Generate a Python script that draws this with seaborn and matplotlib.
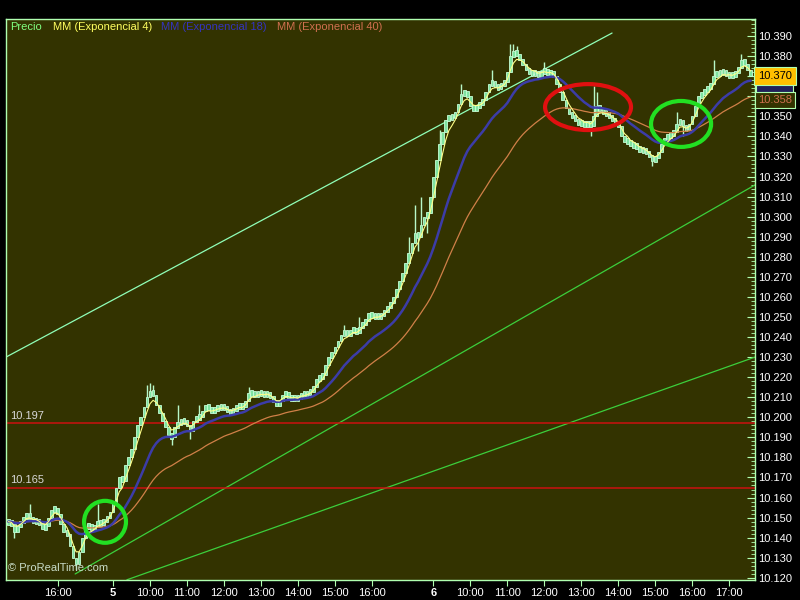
import numpy as np
import pandas as pd
import seaborn as sns
import matplotlib.pyplot as plt
from matplotlib.patches import Ellipse, Rectangle
from matplotlib.ticker import MultipleLocator, FuncFormatter

# 5-minute closes, one list per session
session_starts = ['2009-03-04 14:40', '2009-03-05 09:00', '2009-03-06 09:00']

prev_close = [10.148, 10.147, 10.143, 10.146, 10.148, 10.150, 10.152, 10.150, 10.148,
              10.149, 10.147, 10.145, 10.146, 10.150, 10.154, 10.155, 10.152, 10.147,
              10.143, 10.142, 10.136, 10.130, 10.127, 10.133, 10.140, 10.145, 10.147,
              10.144, 10.146, 10.148, 10.147, 10.149, 10.150, 10.153]

day5_close = [10.158, 10.165, 10.170, 10.168, 10.176, 10.180, 10.184, 10.190, 10.196, 10.200,
              10.205, 10.210, 10.213, 10.211, 10.206, 10.202, 10.198, 10.195, 10.191, 10.190,
              10.195, 10.197, 10.198, 10.198, 10.196, 10.193, 10.198, 10.200, 10.200, 10.203,
              10.206, 10.204, 10.203, 10.204, 10.205, 10.205, 10.205, 10.203, 10.202, 10.204,
              10.205, 10.206, 10.205, 10.208, 10.212, 10.212, 10.211, 10.212, 10.212, 10.211,
              10.212, 10.210, 10.208, 10.206, 10.208, 10.211, 10.212, 10.210, 10.209, 10.210,
              10.209, 10.212, 10.211, 10.212, 10.213, 10.215, 10.219, 10.220, 10.221, 10.226,
              10.230, 10.232, 10.235, 10.238, 10.241, 10.243, 10.241, 10.243, 10.244, 10.242,
              10.245, 10.247, 10.248, 10.252, 10.250, 10.251, 10.250, 10.251, 10.253, 10.255,
              10.257, 10.260, 10.264, 10.268, 10.272, 10.277, 10.282, 10.287, 10.292, 10.290,
              10.296, 10.300, 10.302, 10.310]

day6_close = [10.320, 10.328, 10.336, 10.342, 10.348, 10.350, 10.349, 10.352, 10.356, 10.361,
              10.362, 10.360, 10.355, 10.353, 10.355, 10.356, 10.358, 10.362, 10.366, 10.367,
              10.365, 10.364, 10.366, 10.367, 10.372, 10.380, 10.382, 10.381, 10.378, 10.376,
              10.373, 10.372, 10.371, 10.372, 10.370, 10.372, 10.373, 10.371, 10.372, 10.370,
              10.366, 10.362, 10.358, 10.354, 10.351, 10.350, 10.348, 10.346, 10.347, 10.345,
              10.347, 10.345, 10.350, 10.355, 10.353, 10.352, 10.351, 10.350, 10.348, 10.347,
              10.345, 10.340, 10.337, 10.338, 10.335, 10.336, 10.334, 10.333, 10.333, 10.332,
              10.330, 10.328, 10.329, 10.332, 10.336, 10.339, 10.340, 10.341, 10.342, 10.346,
              10.348, 10.345, 10.343, 10.346, 10.350, 10.355, 10.360, 10.361, 10.363, 10.364,
              10.366, 10.370, 10.372, 10.371, 10.373, 10.370, 10.371, 10.370, 10.372, 10.374,
              10.378, 10.376, 10.373, 10.370]

# wick extremes (bar index, price)
wick_top_idx = [7, 29, 45, 46, 47, 55, 62, 78, 109, 114, 130, 132, 134, 140, 147, 157,
                163, 164, 165, 174, 190, 191, 217, 229, 238]
wick_top = [10.157, 10.157, 10.216, 10.217, 10.216, 10.206, 10.206, 10.215, 10.246, 10.250,
            10.290, 10.306, 10.310, 10.343, 10.366, 10.373, 10.386, 10.386, 10.385, 10.377,
            10.365, 10.362, 10.352, 10.378, 10.381]
wick_bot_idx = [2, 22, 53, 59, 133, 136, 189, 209, 219]
wick_bot = [10.140, 10.124, 10.186, 10.189, 10.283, 10.292, 10.340, 10.325, 10.340]

hlines = [10.197, 10.165]

# trend lines: (bar index start, end), (price start, end)
trend_x = [[-0.75, 196.0], [21.7, 242.4], [38.5, 242.4]]
trend_y = [[10.230, 10.3915], [10.1219, 10.3158], [10.119, 10.230]]
trend_colors = ['#90ffb8', '#3ccf3c', '#3ccf3c']

# highlighted zones: centre index, centre price, width (bars), height (price)
circle_x = [31.4, 188.2, 218.4]
circle_y = [10.1479, 10.3546, 10.3462]
circle_w = [13.6, 27.9, 19.5]
circle_h = [0.0209, 0.0229, 0.0229]
circle_colors = ['#22e022', '#e01010', '#22e022']

# last value tags: close, EMA 18 (hidden behind close), EMA 40
tag_close = 10.370
tag_ema18 = 10.3655
tag_ema40 = 10.358
# axis labels covered by the tags
hidden_labels = ['10.360', '10.370']

tick_stamps = ['2009-03-04 16:00', '2009-03-05 09:00', '2009-03-05 10:00', '2009-03-05 11:00',
               '2009-03-05 12:00', '2009-03-05 13:00', '2009-03-05 14:00', '2009-03-05 15:00',
               '2009-03-05 16:00', '2009-03-06 09:00', '2009-03-06 10:00', '2009-03-06 11:00',
               '2009-03-06 12:00', '2009-03-06 13:00', '2009-03-06 14:00', '2009-03-06 15:00',
               '2009-03-06 16:00', '2009-03-06 17:00']
tick_labels = ['16:00', '5', '10:00', '11:00', '12:00', '13:00', '14:00', '15:00', '16:00',
               '6', '10:00', '11:00', '12:00', '13:00', '14:00', '15:00', '16:00', '17:00']

sessions = [prev_close, day5_close, day6_close]
times = pd.concat([pd.Series(pd.date_range(s, periods=len(c), freq='5min'))
                   for s, c in zip(session_starts, sessions)], ignore_index=True)
df = pd.DataFrame({'time': times, 'close': np.concatenate(sessions)})
df['idx'] = np.arange(len(df))
df['open'] = df['close'].shift(1).fillna(df['close'])
for span in (4, 18, 40):
    df[f'ema{span}'] = df['close'].ewm(span=span, adjust=False).mean()

sns.set_style('dark')
plt.rcParams['font.family'] = ['Liberation Sans', 'DejaVu Sans']

border = '#b0ffb0'
fig = plt.figure(figsize=(8, 6), dpi=100, facecolor='black')
ax = fig.add_axes([6 / 800, 20 / 600, 749 / 800, 561 / 600])
ax.set_facecolor('#333300')

for xs, ys, c in zip(trend_x, trend_y, trend_colors):
    ax.plot(xs, ys, color=c, lw=0.9, zorder=2)

for v in hlines:
    ax.axhline(v, color='#cc1010', lw=1.1, zorder=2)
    ax.annotate(f'{v:.3f}', xy=(0.005, v), xycoords=('axes fraction', 'data'),
                xytext=(0, 2), textcoords='offset points', va='bottom',
                color='#d8d8d8', fontsize=8)

# candles
lo = np.minimum(df['open'], df['close'])
hi = np.maximum(df['open'], df['close'])
h = np.maximum(hi - lo, 0.003)
mid = (lo + hi) / 2
top_body = pd.Series(mid + h / 2, index=df['idx'])
bot_body = pd.Series(mid - h / 2, index=df['idx'])
ax.vlines(wick_top_idx, top_body[wick_top_idx].values, wick_top, color='#b8f8c8', lw=1, zorder=3)
ax.vlines(wick_bot_idx, wick_bot, bot_body[wick_bot_idx].values, color='#b8f8c8', lw=1, zorder=3)
ax.bar(df['idx'], h, bottom=mid - h / 2, width=0.85, color='#7fe3a0',
       edgecolor='#c8ffd8', linewidth=0.6, zorder=3)

sns.lineplot(data=df, x='idx', y='ema40', color='#d08048', lw=0.9, ax=ax, zorder=4)
sns.lineplot(data=df, x='idx', y='ema18', color='#3c3ca8', lw=1.8, ax=ax, zorder=4)
sns.lineplot(data=df, x='idx', y='ema4', color='#ffff88', lw=0.8, ax=ax, zorder=5)

for cx, cy, w, hh, c in zip(circle_x, circle_y, circle_w, circle_h, circle_colors):
    ax.add_patch(Ellipse((cx, cy), w, hh, fill=False, edgecolor=c, lw=3, zorder=6))

ax.set_xlim(-0.75, 242.4)
ax.set_ylim(10.1189, 10.3985)
ax.set_xlabel('')
ax.set_ylabel('')

tick_idx = [int(df.index[df['time'] == pd.Timestamp(t)][0]) for t in tick_stamps]
ax.set_xticks(tick_idx)
ax.set_xticklabels(tick_labels)
for lab in ax.get_xticklabels():
    if lab.get_text() in ('5', '6'):
        lab.set_fontweight('bold')
        lab.set_fontsize(9)
ax.tick_params(axis='x', direction='out', length=4, color=border, labelcolor='white',
               labelsize=8, pad=2, bottom=True)


def price_fmt(v, pos):
    s = f'{v:.3f}'
    return '' if s in hidden_labels else s


ax.yaxis.tick_right()
ax.yaxis.set_major_locator(MultipleLocator(0.01))
ax.yaxis.set_minor_locator(MultipleLocator(0.002))
ax.yaxis.set_major_formatter(FuncFormatter(price_fmt))
ax.tick_params(axis='y', which='major', direction='in', length=6, color=border,
               labelcolor='white', labelsize=8, pad=2, right=True)
ax.tick_params(axis='y', which='minor', direction='in', length=3, color=border, right=True)
ax.grid(False)
for sp in ax.spines.values():
    sp.set_color(border)
    sp.set_linewidth(1)

# legend strip
legend_items = [('Precio', 0.005, '#80ff80'), ('MM (Exponencial 4)', 0.063, '#ffff60'),
                ('MM (Exponencial 18)', 0.207, '#3434c0'), ('MM (Exponencial 40)', 0.362, '#d07050')]
for txt, xpos, c in legend_items:
    ax.text(xpos, 0.9855, txt, transform=ax.transAxes, color=c, fontsize=8, va='center')

ax.text(0.003, 0.013, '\u00a9 ProRealTime.com', transform=ax.transAxes,
        color='#c8dcc8', fontsize=8, va='bottom')

# last value tags
ytrans = ax.get_yaxis_transform()
ax.add_patch(Rectangle((1.001, tag_ema18 - 0.0045), 0.05, 0.009, transform=ytrans,
                       fc='#20205a', ec=border, lw=0.8, clip_on=False, zorder=9))
ax.text(1.004, tag_close, f'{tag_close:.3f}', transform=ytrans, color='black',
        fontsize=8, va='center', ha='left', clip_on=False, zorder=10,
        bbox=dict(boxstyle='square,pad=0.35', fc='#ffc000', ec=border, lw=0.8))
ax.text(1.004, tag_ema40, f'{tag_ema40:.3f}', transform=ytrans, color='#d07050',
        fontsize=8, va='center', ha='left', clip_on=False, zorder=10,
        bbox=dict(boxstyle='square,pad=0.25', fc='#333300', ec=border, lw=0.8))

fig.savefig('out.png', dpi=100, facecolor='black')
